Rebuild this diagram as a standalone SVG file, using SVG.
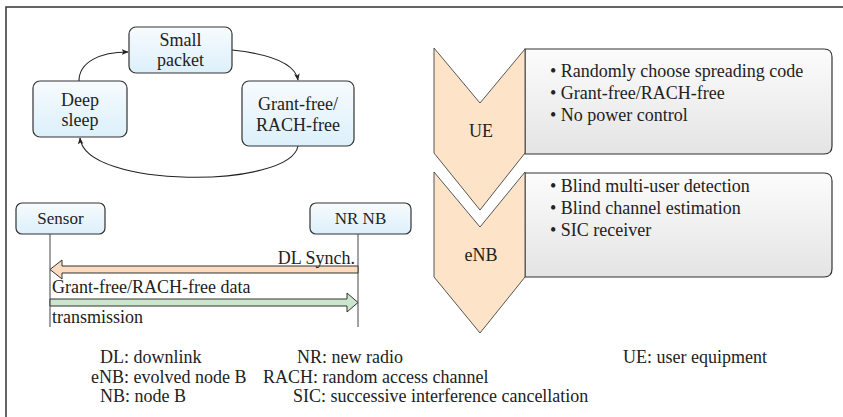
<svg xmlns="http://www.w3.org/2000/svg" width="843" height="417" viewBox="0 0 843 417" font-family="Liberation Serif, Times New Roman, DejaVu Serif, serif">
<style>
text{fill:#222;}
.n{font-size:18px;text-anchor:middle;}
.s{font-size:18px;}
.b{font-size:18px;}
.lg{font-size:18px;}
.node{fill:url(#gb);stroke:#333;stroke-width:1.2;}
.conn{fill:none;stroke:#222;stroke-width:1.1;}
.life{stroke:#444;stroke-width:1;}
.chev{fill:#fde3c8;stroke:#444;stroke-width:0.9;}
.panel{fill:url(#gg);stroke:#333;stroke-width:1.2;}
</style>
<defs>
<linearGradient id="gb" x1="0" y1="0" x2="0" y2="1">
<stop offset="0" stop-color="#f7fbfe"/>
<stop offset="1" stop-color="#dcf0fa"/>
</linearGradient>
<linearGradient id="gg" x1="0" y1="0" x2="0" y2="1">
<stop offset="0" stop-color="#fcfcfc"/>
<stop offset="1" stop-color="#e4e4e4"/>
</linearGradient>
<marker id="ah" viewBox="0 0 10 10" refX="9" refY="5" markerWidth="7" markerHeight="7" markerUnits="userSpaceOnUse" orient="auto">
<path d="M0,1 L10,5 L0,9 L2.5,5 Z" fill="#222"/>
</marker>
</defs>
<rect x="0" y="0" width="843" height="417" fill="#fff"/>
<g id="frame" stroke="#333" stroke-width="1.5" fill="none">
<path d="M6,417 L6,7 L843,7"/>
</g>

<g id="connectors">
<path class="conn" d="M79,81 C79,62 100,52 128,52" marker-end="url(#ah)"/>
<path class="conn" d="M232,50 C270,54 295,63 298,80" marker-end="url(#ah)"/>
<path class="conn" d="M298,146 C290,189 85,189 80,138" marker-end="url(#ah)"/>
<line class="life" x1="50" y1="234" x2="50" y2="327"/>
<line class="life" x1="358" y1="234" x2="358" y2="327"/>
<polygon points="358,266 62,266 62,260 50,269.5 62,279 62,273 358,273" fill="#fcdcc0" stroke="#333" stroke-width="1"/>
<polygon points="50,299 347,299 347,293 358,302.5 347,312 347,306 50,306" fill="#cbe6cc" stroke="#333" stroke-width="1"/>
</g>

<g id="node-small-packet">
<rect class="node" x="129" y="27" width="103" height="46" rx="7"/>
<text class="n" x="180.5" y="46">Small</text>
<text class="n" x="180.5" y="66">packet</text>
</g>
<g id="node-deep-sleep">
<rect class="node" x="33" y="81" width="94" height="56" rx="7"/>
<text class="n" x="80" y="106">Deep</text>
<text class="n" x="80" y="126">sleep</text>
</g>
<g id="node-grant-free">
<rect class="node" x="242" y="81" width="112" height="65" rx="7"/>
<text class="n" x="298" y="110">Grant-free/</text>
<text class="n" x="298" y="131">RACH-free</text>
</g>

<g id="node-sensor">
<rect class="node" x="16" y="203" width="89" height="31" rx="6"/>
<text class="n" x="60.5" y="224" style="font-size:17px">Sensor</text>
</g>
<g id="node-nrnb">
<rect class="node" x="310" y="203" width="101" height="31" rx="6"/>
<text class="n" x="360.5" y="224" style="font-size:17px">NR NB</text>
</g>

<g id="labels-seq">
<text class="s" x="355" y="264" text-anchor="end">DL Synch.</text>
<text class="s" x="52" y="293">Grant-free/RACH-free data</text>
<text class="s" x="52" y="323">transmission</text>
</g>

<g id="node-ue">
<path class="panel" d="M525,49 L824,49 Q832,49 832,57 L832,146 Q832,154 824,154 L525,154 Z"/>
<polygon class="chev" points="434,48 480,103 525,49 525,153 480,210 434,153"/>
<text class="n" x="481" y="137">UE</text>
<text class="b" x="550" y="77">• Randomly choose spreading code</text>
<text class="b" x="550" y="99">• Grant-free/RACH-free</text>
<text class="b" x="550" y="121">• No power control</text>
</g>
<g id="node-enb">
<path class="panel" d="M525,173 L824,173 Q832,173 832,181 L832,269 Q832,277 824,277 L525,277 Z"/>
<polygon class="chev" points="434,172 480,227 525,172 525,277 480,333 434,277"/>
<text class="n" x="481" y="261">eNB</text>
<text class="b" x="550" y="192">• Blind multi-user detection</text>
<text class="b" x="550" y="214">• Blind channel estimation</text>
<text class="b" x="550" y="236">• SIC receiver</text>
</g>

<g id="legend">
<text class="lg" x="100" y="363">DL: downlink</text>
<text class="lg" x="91" y="383">eNB: evolved node B</text>
<text class="lg" x="100" y="402">NB: node B</text>
<text class="lg" x="297" y="363">NR: new radio</text>
<text class="lg" x="263" y="383">RACH: random access channel</text>
<text class="lg" x="293" y="402">SIC: successive interference cancellation</text>
<text class="lg" x="623" y="363">UE: user equipment</text>
</g>
</svg>
